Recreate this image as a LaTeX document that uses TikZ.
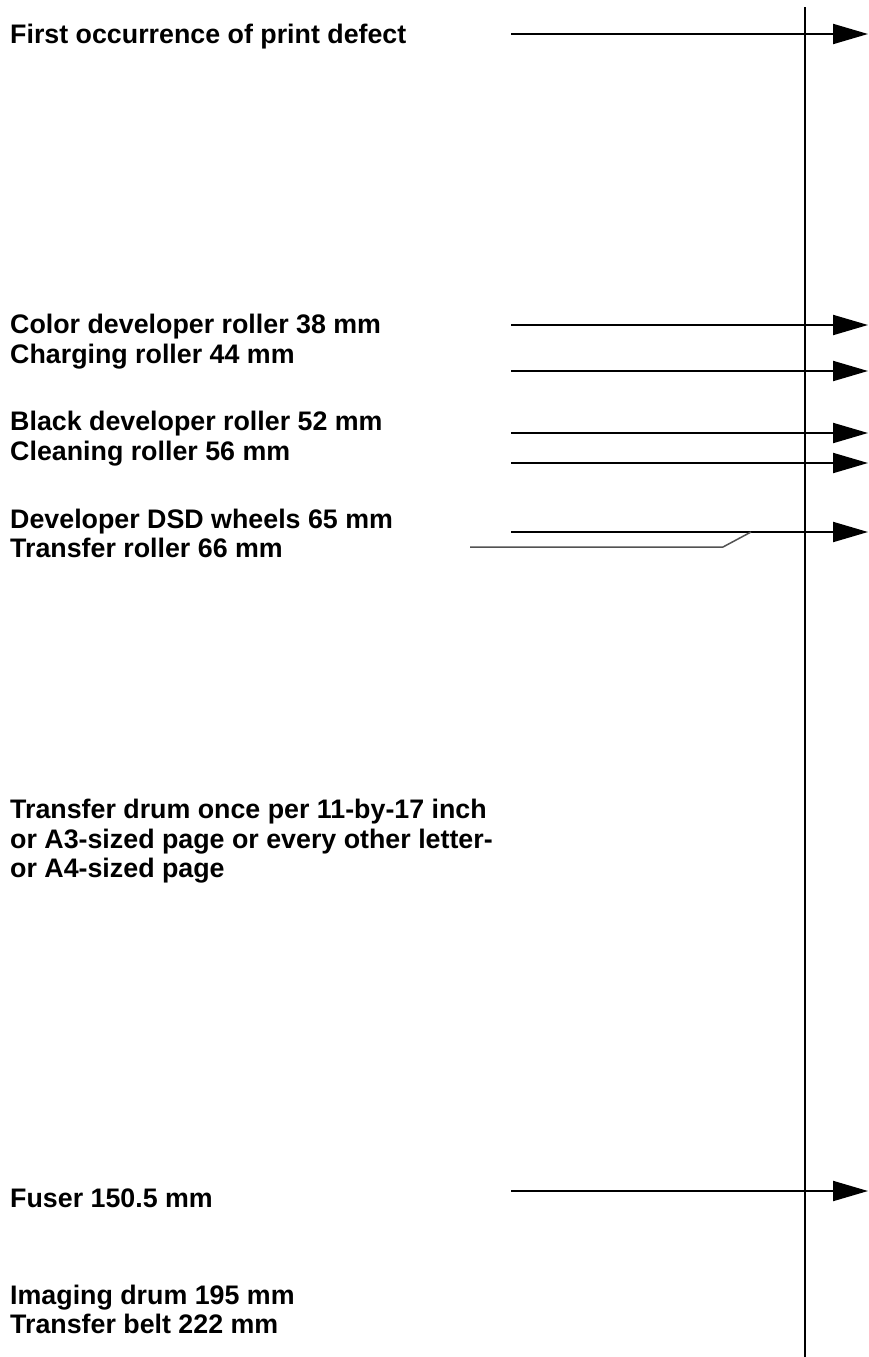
\documentclass[tikz,border=0pt]{standalone}
\usepackage{fontspec}
\setmainfont{Liberation Sans}
\usetikzlibrary{arrows.meta}
\begin{document}
\begin{tikzpicture}[x=1pt,y=-1pt,
  lbl/.style={anchor=base west,inner sep=0pt,font=\fontsize{26.8}{30}\selectfont\bfseries},
  arr/.style={line width=2pt,-{Triangle[length=35pt,width=20pt]}},
  axis/.style={line width=2pt},
  lead/.style={line width=1.5pt,draw=black!68}]
\useasboundingbox[fill=white] (0,0) rectangle (868,1357);
% labels
\node[lbl] (t1) at (10,43) {First occurrence of print defect};
\node[lbl] (t2) at (10,333) {Color developer roller 38 mm};
\node[lbl] (t3) at (10,363) {Charging roller 44 mm};
\node[lbl] (t4) at (10,430) {Black developer roller 52 mm};
\node[lbl] (t5) at (10,460) {Cleaning roller 56 mm};
\node[lbl] (t6) at (10,528) {Developer DSD wheels 65 mm};
\node[lbl] (t7) at (10,557) {Transfer roller 66 mm};
\node[lbl] (t8) at (10,818) {Transfer drum once per 11-by-17 inch};
\node[lbl] (t9) at (10,848) {or A3-sized page or every other letter-};
\node[lbl] (t10) at (10,877) {or A4-sized page};
\node[lbl] (t11) at (10,1207) {Fuser 150.5 mm};
\node[lbl] (t12) at (10,1304) {Imaging drum 195 mm};
\node[lbl] (t13) at (10,1333) {Transfer belt 222 mm};
% time axis
\coordinate (vtop) at (805,7);
\coordinate (vbot) at (805,1357);
\draw[axis] (vtop) -- (vbot);
% arrow end points
\foreach \n/\y in {a/34,b/325,c/371,d/433,e/463,f/532,g/1191}{
  \coordinate (\n s) at (511,\y);
  \coordinate (\n e) at (868,\y);
}
\foreach \n in {a,b,c,d,e,f,g}{
  \draw[arr] (\n s) -- (\n e);
}
% leader for transfer roller
\coordinate (l1) at (470,547);
\coordinate (l2) at (723,547);
\coordinate (l3) at (751,532);
\draw[lead] (l1) -- (l2) -- (l3);
\end{tikzpicture}
\end{document}
